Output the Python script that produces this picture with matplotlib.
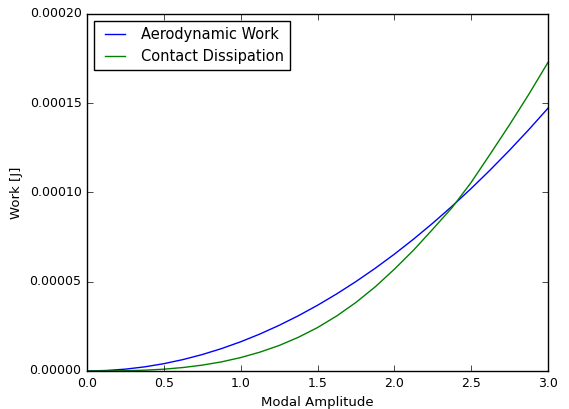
import matplotlib
matplotlib.use('Agg')
import matplotlib.pyplot as plt

# modal amplitude sweep and the two work terms, in units of 1e-5 J
amplitude = [0.0, 0.125, 0.25, 0.375, 0.5, 0.625, 0.75, 0.875, 1.0,
             1.125, 1.25, 1.375, 1.5, 1.625, 1.75, 1.875, 2.0,
             2.125, 2.25, 2.375, 2.5, 2.625, 2.75, 2.875, 3.0]
aero_work = [0.0, 0.026, 0.102, 0.230, 0.409, 0.639, 0.920, 1.252, 1.635,
             2.069, 2.555, 3.091, 3.679, 4.317, 5.007, 5.748, 6.540,
             7.383, 8.277, 9.222, 10.219, 11.266, 12.365, 13.514, 14.715]
contact_diss = [0.0, 0.002, 0.0125, 0.042, 0.100, 0.193, 0.327, 0.509, 0.750,
                1.054, 1.426, 1.885, 2.430, 3.081, 3.837, 4.707, 5.696,
                6.765, 7.940, 9.140, 10.560, 12.160, 13.790, 15.490, 17.280]

scale = 1e-5
aero_work = [v * scale for v in aero_work]
contact_diss = [v * scale for v in contact_diss]

plt.style.use('classic')
fig = plt.figure(figsize=(5.69, 4.09), dpi=100, facecolor='white')
ax = fig.add_axes([0.153, 0.093, 0.81, 0.873])

ax.plot(amplitude, aero_work, 'b-', label='Aerodynamic Work')
ax.plot(amplitude, contact_diss, 'g-', label='Contact Dissipation')

ax.set_xlim(0, 3.0)
ax.set_ylim(0, 0.0002)
ax.set_xticks([0.0, 0.5, 1.0, 1.5, 2.0, 2.5, 3.0])
ax.set_yticks([0.0, 0.00005, 0.0001, 0.00015, 0.0002])
ax.set_yticklabels(['0.00000', '0.00005', '0.00010', '0.00015', '0.00020'])
ax.tick_params(labelsize=9)
ax.set_xlabel('Modal Amplitude', fontsize=9.5)
ax.set_ylabel('Work [J]', fontsize=9.5)
ax.legend(loc='upper left', fontsize=10.5)

fig.savefig('out.png', dpi=100, facecolor='white')
